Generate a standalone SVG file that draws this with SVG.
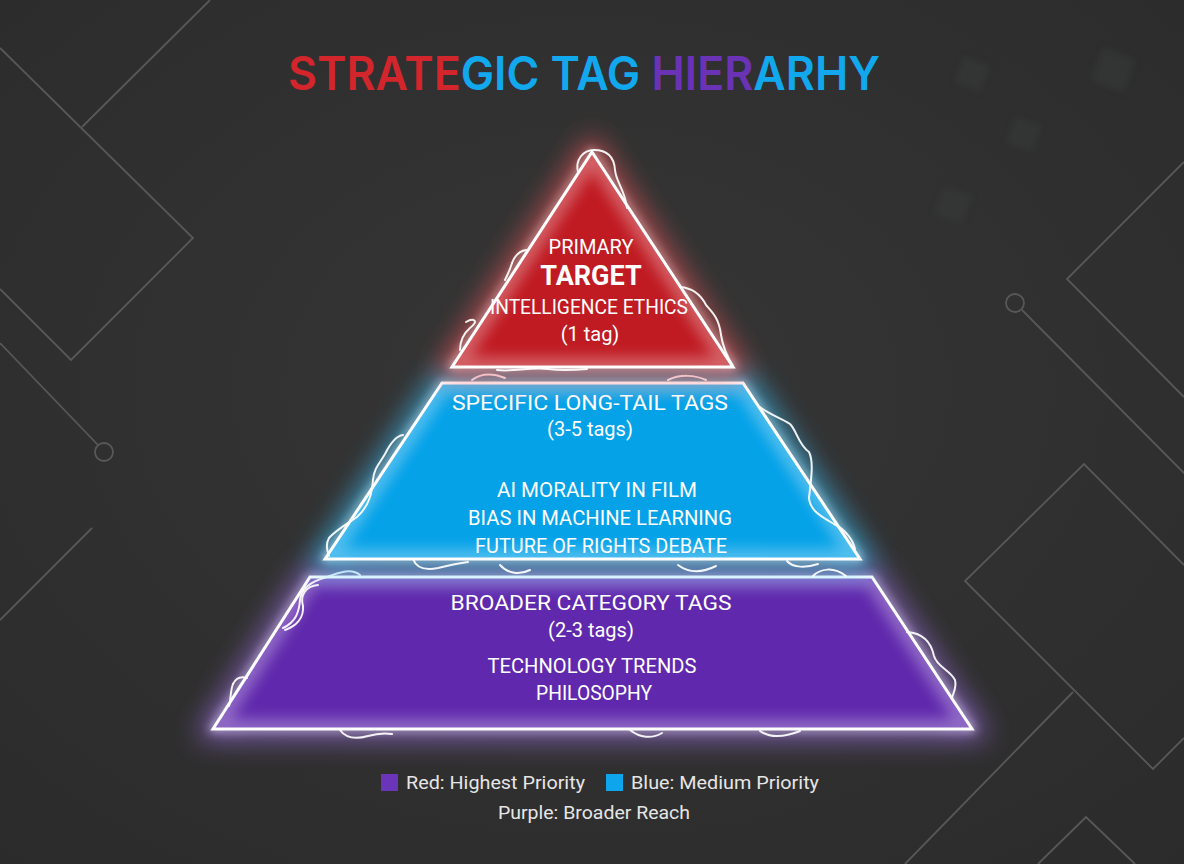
<svg xmlns="http://www.w3.org/2000/svg" width="1184" height="864" viewBox="0 0 1184 864">
<defs>
  <radialGradient id="bg" cx="0.5" cy="0.45" r="0.75">
    <stop offset="0" stop-color="#363636"/>
    <stop offset="1" stop-color="#2b2b2b"/>
  </radialGradient>
  <filter id="glow" x="-40%" y="-40%" width="180%" height="180%">
    <feGaussianBlur stdDeviation="14"/>
  </filter>
  <filter id="glow2" x="-30%" y="-30%" width="160%" height="160%">
    <feGaussianBlur stdDeviation="5"/>
  </filter>
  <filter id="soft" x="-20%" y="-20%" width="140%" height="140%">
    <feGaussianBlur stdDeviation="7"/>
  </filter>
  <filter id="faint" x="-50%" y="-50%" width="200%" height="200%">
    <feGaussianBlur stdDeviation="3"/>
  </filter>
  <clipPath id="cTop"><path d="M592,152 L733,367 L452,367 Z"/></clipPath>
  <clipPath id="cMid"><path d="M442,383 L743,383 L860,559 L325,559 Z"/></clipPath>
  <clipPath id="cBot"><path d="M310,577 L872,577 L972,729 L213,729 Z"/></clipPath>
  <style>
    .bgline{fill:none;stroke:#585858;stroke-width:1.8}
    .edge{fill:none;stroke:#fff;stroke-width:3;stroke-linejoin:miter}
    .wig{fill:none;stroke:#fff;stroke-width:2;stroke-linecap:round;stroke-linejoin:round;opacity:0.92}
    .inner{fill:none;stroke:#fff;stroke-width:20;opacity:0.3}
    .t{font-family:Roboto,"Liberation Sans",sans-serif;fill:#fff;text-anchor:middle}
    .n{font-size:20px}
    .b{font-size:27px;font-weight:700}
    .title{font-family:Inter,"Open Sans","Liberation Sans",sans-serif;font-size:46px;font-weight:600}
    .leg{font-family:Roboto,"Liberation Sans",sans-serif;font-size:19px;fill:#e6e6e6}
  </style>
</defs>

<rect width="1184" height="864" fill="url(#bg)"/>

<g id="background">
  <path class="bgline" d="M210,0 L82,127"/>
  <path class="bgline" d="M0,48 L193,238 L71,360 L0,289"/>
  <path class="bgline" d="M0,343 L98,445"/>
  <circle class="bgline" cx="104" cy="452" r="9"/>
  <path class="bgline" d="M92,528 L0,620"/>
  <path class="bgline" d="M1184,162 L1067,279 L1184,397"/>
  <circle class="bgline" cx="1015" cy="303" r="9"/>
  <path class="bgline" d="M1022,310 L1184,473"/>
  <path class="bgline" d="M1184,565 L1084,464 L965,581 L1153,769 L1184,738"/>
  <path class="bgline" d="M1073,692 L905,864"/>
  <path class="bgline" d="M1038,864 L1086,817 L1135,864"/>
  <g fill="#3c3f3f" opacity="0.35" filter="url(#faint)">
    <rect x="1095" y="52" width="36" height="36" transform="rotate(20 1113 70)"/>
    <rect x="1010" y="120" width="28" height="28" transform="rotate(20 1024 134)"/>
    <rect x="938" y="190" width="30" height="30" transform="rotate(20 953 205)"/>
    <rect x="958" y="60" width="28" height="28" transform="rotate(20 972 74)"/>
  </g>
</g>

<g id="title">
  <text class="title" x="288" y="90" textLength="592" lengthAdjust="spacingAndGlyphs"><tspan fill="#d2252c">STRATE</tspan><tspan fill="#12a8ee">GIC TAG </tspan><tspan fill="#6a33b6">HIER</tspan><tspan fill="#12a8ee">ARHY</tspan></text>
</g>

<g id="tier-bottom">
  <path d="M310,577 L872,577 L972,729 L213,729 Z" fill="none" stroke="#9c6fe0" stroke-width="18" filter="url(#glow)" opacity="0.85"/>
  <path d="M310,577 L872,577 L972,729 L213,729 Z" fill="none" stroke="#e4d6ff" stroke-width="5" filter="url(#glow2)" opacity="0.8"/>
  <path d="M310,577 L872,577 L972,729 L213,729 Z" fill="#6029ad"/>
  <g clip-path="url(#cBot)"><path class="inner" d="M310,577 L872,577 L972,729 L213,729 Z" filter="url(#soft)"/></g>
  <path class="edge" d="M310,577 L872,577 L972,729 L213,729 Z"/>
  <path class="wig" d="M360,575 C352,568 340,572 327,577 C312,581 301,588 300,600 C299,612 296,622 283,628"/>
  <path class="wig" d="M318,585 C305,586 300,596 303,606 C304,618 296,626 285,630"/>
  <path class="wig" d="M233,684 C236,678 241,676 247,678"/>
  <path class="wig" d="M233,684 C230,692 231,700 229,706"/>
  <path class="wig" d="M340,730 C345,737 354,740 368,736 C378,733 386,733 392,734"/>
  <path class="wig" d="M907,632 C922,633 931,642 934,656 C937,667 950,670 955,680 C957,688 953,693 952,698"/>
  <path class="wig" d="M630,730 C640,738 652,739 662,733"/>
  <path class="wig" d="M760,731 C770,738 785,737 800,731"/>
  <text class="t n" x="591" y="610" textLength="281" lengthAdjust="spacingAndGlyphs">BROADER CATEGORY TAGS</text>
  <text class="t n" x="591" y="637">(2-3 tags)</text>
  <text class="t n" x="592" y="673" textLength="209" lengthAdjust="spacingAndGlyphs">TECHNOLOGY TRENDS</text>
  <text class="t n" x="594" y="700" textLength="116" lengthAdjust="spacingAndGlyphs">PHILOSOPHY</text>
</g>

<g id="tier-middle">
  <path d="M442,383 L743,383 L860,559 L325,559 Z" fill="none" stroke="#3cc4ff" stroke-width="18" filter="url(#glow)" opacity="0.85"/>
  <path d="M442,383 L743,383 L860,559 L325,559 Z" fill="none" stroke="#c9f0ff" stroke-width="5" filter="url(#glow2)" opacity="0.8"/>
  <path d="M442,383 L743,383 L860,559 L325,559 Z" fill="#05a2e8"/>
  <g clip-path="url(#cMid)"><path class="inner" d="M442,383 L743,383 L860,559 L325,559 Z" filter="url(#soft)"/></g>
  <path class="edge" d="M442,383 L743,383 L860,559 L325,559 Z"/>
  <path class="wig" d="M403,435 C395,436 389,446 385,454 C380,463 374,468 373,480 C372,492 370,505 357,517 C347,524 336,530 329,538 C325,545 327,551 329,556"/>
  <path class="wig" d="M413,559 C416,567 424,571 438,568 C450,565 460,563 468,562"/>
  <path class="wig" d="M760,407 C768,414 781,418 790,424 C797,431 798,444 809,452 C814,462 811,480 809,498 C810,510 820,516 834,524 C846,530 853,540 855,549"/>
  <path class="wig" d="M787,561 C793,568 806,568 818,564"/>
  <path class="wig" d="M813,576 C820,569 833,566 846,576"/>
  <path class="wig" d="M472,380 C480,374 492,373 505,378"/>
  <path class="wig" d="M668,380 C680,374 695,375 706,380"/>
  <path class="wig" d="M500,565 C508,574 520,575 530,570"/>
  <path class="wig" d="M678,565 C690,574 704,572 716,566"/>
  <text class="t n" x="590" y="410" textLength="276" lengthAdjust="spacingAndGlyphs">SPECIFIC LONG-TAIL TAGS</text>
  <text class="t n" x="590" y="436">(3-5 tags)</text>
  <text class="t n" x="597" y="497" textLength="200" lengthAdjust="spacingAndGlyphs">AI MORALITY IN FILM</text>
  <text class="t n" x="600" y="525" textLength="264" lengthAdjust="spacingAndGlyphs">BIAS IN MACHINE LEARNING</text>
  <text class="t n" x="601" y="553" textLength="252" lengthAdjust="spacingAndGlyphs">FUTURE OF RIGHTS DEBATE</text>
</g>

<g id="tier-top">
  <path d="M592,152 L733,367 L452,367 Z" fill="none" stroke="#ff5a60" stroke-width="18" filter="url(#glow)" opacity="0.8"/>
  <path d="M592,152 L733,367 L452,367 Z" fill="none" stroke="#ffd0d2" stroke-width="5" filter="url(#glow2)" opacity="0.75"/>
  <path d="M592,152 L733,367 L452,367 Z" fill="#c01b23"/>
  <g clip-path="url(#cTop)"><path class="inner" d="M592,152 L733,367 L452,367 Z" filter="url(#soft)"/></g>
  <path class="edge" d="M592,152 L733,367 L452,367 Z"/>
  <path class="wig" d="M578,172 C575,160 583,150 594,150 C605,150 614,155 615,170 C616,182 625,190 627,208"/>
  <path class="wig" d="M512,263 C515,255 520,251 526,250"/>
  <path class="wig" d="M512,263 C510,270 507,276 505,280"/>
  <path class="wig" d="M680,287 C692,288 701,295 706,305 C712,312 719,318 721,335 C723,348 728,358 733,366"/>
  <path class="wig" d="M466,322 C473,318 480,320 470,328 C463,334 460,342 460,350"/>
  <path class="wig" d="M497,370 C512,372 530,367 548,369 C562,371 576,370 587,369"/>
  <text class="t n" x="591" y="254">PRIMARY</text>
  <text class="t b" x="591" y="285">TARGET</text>
  <text class="t n" x="589" y="314" textLength="198" lengthAdjust="spacingAndGlyphs">INTELLIGENCE ETHICS</text>
  <text class="t n" x="590" y="341">(1 tag)</text>
</g>

<g id="legend">
  <rect x="381" y="774" width="17" height="17" fill="#6a35b8"/>
  <text class="leg" x="406" y="789" textLength="179" lengthAdjust="spacingAndGlyphs">Red: Highest Priority</text>
  <rect x="606" y="774" width="17" height="17" fill="#0ea5ec"/>
  <text class="leg" x="631" y="789" textLength="188" lengthAdjust="spacingAndGlyphs">Blue: Medium Priority</text>
  <text class="leg" x="594" y="819" text-anchor="middle" textLength="192" lengthAdjust="spacingAndGlyphs">Purple: Broader Reach</text>
</g>
</svg>
